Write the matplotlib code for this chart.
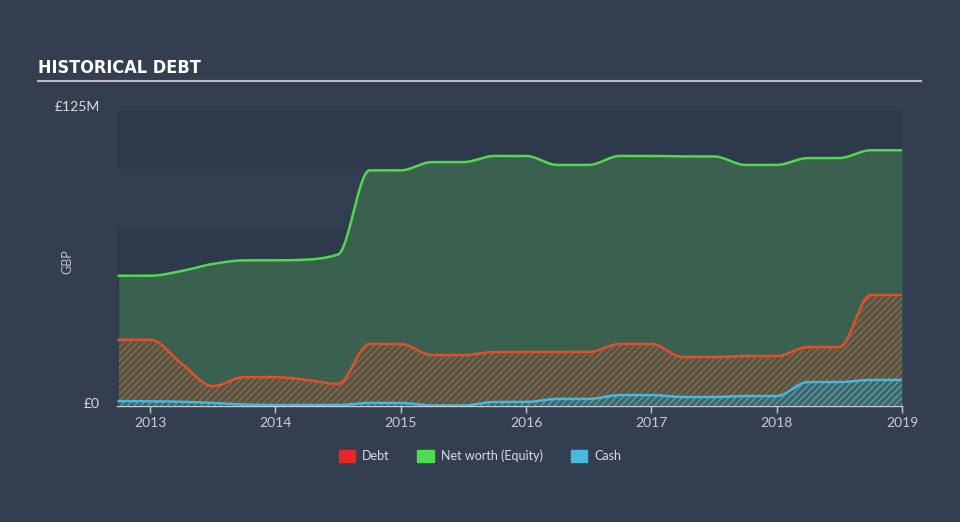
import matplotlib
matplotlib.use('Agg')
from matplotlib import pyplot as plt
import numpy as np

# quarterly readings, values in £M
dates = [2012.75, 2013.0, 2013.25, 2013.5, 2013.75, 2014.0, 2014.25, 2014.5, 2014.75,
         2015.0, 2015.25, 2015.5, 2015.75, 2016.0, 2016.25, 2016.5, 2016.75,
         2017.0, 2017.25, 2017.5, 2017.75, 2018.0, 2018.25, 2018.5, 2018.75, 2019.0]
net_worth = [55, 55, 57, 60, 61.5, 61.5, 61.8, 64, 99.5,
             99.5, 103, 103, 105.6, 105.6, 101.8, 101.8, 105.6,
             105.6, 105.4, 105.4, 101.8, 101.8, 104.7, 104.7, 108, 108]
debt = [28, 28, 18, 8.4, 12.2, 12.2, 11, 9.3, 26.2,
        26.2, 21.5, 21.5, 22.8, 22.8, 22.8, 22.8, 26.2,
        26.2, 20.7, 20.7, 21.1, 21.1, 24.9, 24.9, 46.9, 46.9]
cash = [2.1, 2.0, 1.8, 1.3, 0.6, 0.4, 0.4, 0.4, 1.3,
        1.3, 0.2, 0.2, 1.7, 1.7, 3.0, 3.0, 4.6,
        4.6, 3.8, 3.8, 4.2, 4.2, 10.1, 10.1, 11.0, 11.0]
years = [2013, 2014, 2015, 2016, 2017, 2018, 2019]

BG = '#333f50'


def monotone(x, y, n=600):
    # monotone cubic (Fritsch-Carlson) just for drawing smooth lines
    x = np.asarray(x, float)
    y = np.asarray(y, float)
    h = np.diff(x)
    d = np.diff(y) / h
    m = np.zeros_like(y)
    m[0], m[-1] = d[0], d[-1]
    for i in range(1, len(y) - 1):
        if d[i - 1] * d[i] <= 0:
            m[i] = 0
        else:
            w1 = 2 * h[i] + h[i - 1]
            w2 = h[i] + 2 * h[i - 1]
            m[i] = (w1 + w2) / (w1 / d[i - 1] + w2 / d[i])
    xs = np.linspace(x[0], x[-1], n)
    idx = np.clip(np.searchsorted(x, xs) - 1, 0, len(x) - 2)
    t = (xs - x[idx]) / h[idx]
    h00 = 2 * t**3 - 3 * t**2 + 1
    h10 = t**3 - 2 * t**2 + t
    h01 = -2 * t**3 + 3 * t**2
    h11 = t**3 - t**2
    ys = h00 * y[idx] + h10 * h[idx] * m[idx] + h01 * y[idx + 1] + h11 * h[idx] * m[idx + 1]
    return xs, ys


plt.rcParams['font.family'] = ['Lato', 'DejaVu Sans']
plt.rcParams['hatch.linewidth'] = 1.0

fig = plt.figure(figsize=(9.6, 5.22), dpi=100, facecolor=BG)
ax = fig.add_axes([117 / 960, 116 / 522, 785 / 960, 296 / 522])
ax.set_facecolor('#2e3b4c')

# alternating bands, top one darkest
for k in range(5):
    ax.axhspan(k * 25, (k + 1) * 25, color='#2d3a4b' if k % 2 == 0 else '#313e4f', zorder=0, lw=0)

xn, yn = monotone(dates, net_worth)
xd, yd = monotone(dates, debt)
xc, yc = monotone(dates, cash)

ax.fill_between(xn, 0, yn, color='#3a6150', lw=0, zorder=1)
ax.fill_between(xd, 0, yd, facecolor='#4a5a48', edgecolor='#a65e40', hatch='/////', lw=0, zorder=2)
ax.fill_between(xc, 0, yc, facecolor='#3f6468', edgecolor='#5a9eae', hatch='/////', lw=0, zorder=3)
ax.plot(xn, yn, color='#52d84a', lw=1.8, zorder=5)
ax.plot(xd, yd, color='#e0502c', lw=1.8, zorder=5)
ax.plot(xc, yc, color='#45b8de', lw=1.8, zorder=5)

ax.set_xlim(2012.736, 2019.0)
ax.set_ylim(0, 125)
ax.set_yticks([])
ax.set_xticks(years)
ax.set_xticklabels([str(y) for y in years], color='#c8ccd2', fontsize=10)
ax.tick_params(axis='x', colors='#c8ccd2', length=5, width=1, pad=3)
for s in ['top', 'right', 'left']:
    ax.spines[s].set_visible(False)
ax.spines['bottom'].set_color('#c8ccd2')
ax.spines['bottom'].set_linewidth(1)

fig.text(100 / 960, 1 - 107 / 522, '£125M', color='#d8dce0', fontsize=10, ha='right', va='center')
fig.text(100 / 960, 1 - 404 / 522, '£0', color='#d8dce0', fontsize=10, ha='right', va='center')
fig.text(67 / 960, 1 - 262 / 522, 'GBP', color='#b8bec6', fontsize=9, rotation=90, ha='center', va='center')

fig.text(38 / 960, 1 - 68 / 522, 'HISTORICAL DEBT', color='white', fontsize=13, fontweight='bold',
         fontstretch='condensed', family=['DejaVu Sans'], ha='left', va='center')
fig.add_artist(plt.Line2D([38 / 960, 921 / 960], [1 - 81 / 522, 1 - 81 / 522], color='#b8bcc2', lw=1.5))

handles = [plt.Rectangle((0, 0), 1, 1, color=c) for c in ['#e8262a', '#4cdc4c', '#48b8de']]
leg = fig.legend(handles, ['Debt', 'Net worth (Equity)', 'Cash'], loc='center', bbox_to_anchor=(0.5, 1 - 456 / 522),
                 ncol=3, frameon=False, fontsize=9, handlelength=1.3, handleheight=1.0, columnspacing=2.2,
                 handletextpad=0.6)
for t in leg.get_texts():
    t.set_color('#d8dce0')

fig.savefig('out.png', dpi=100, facecolor=BG)
